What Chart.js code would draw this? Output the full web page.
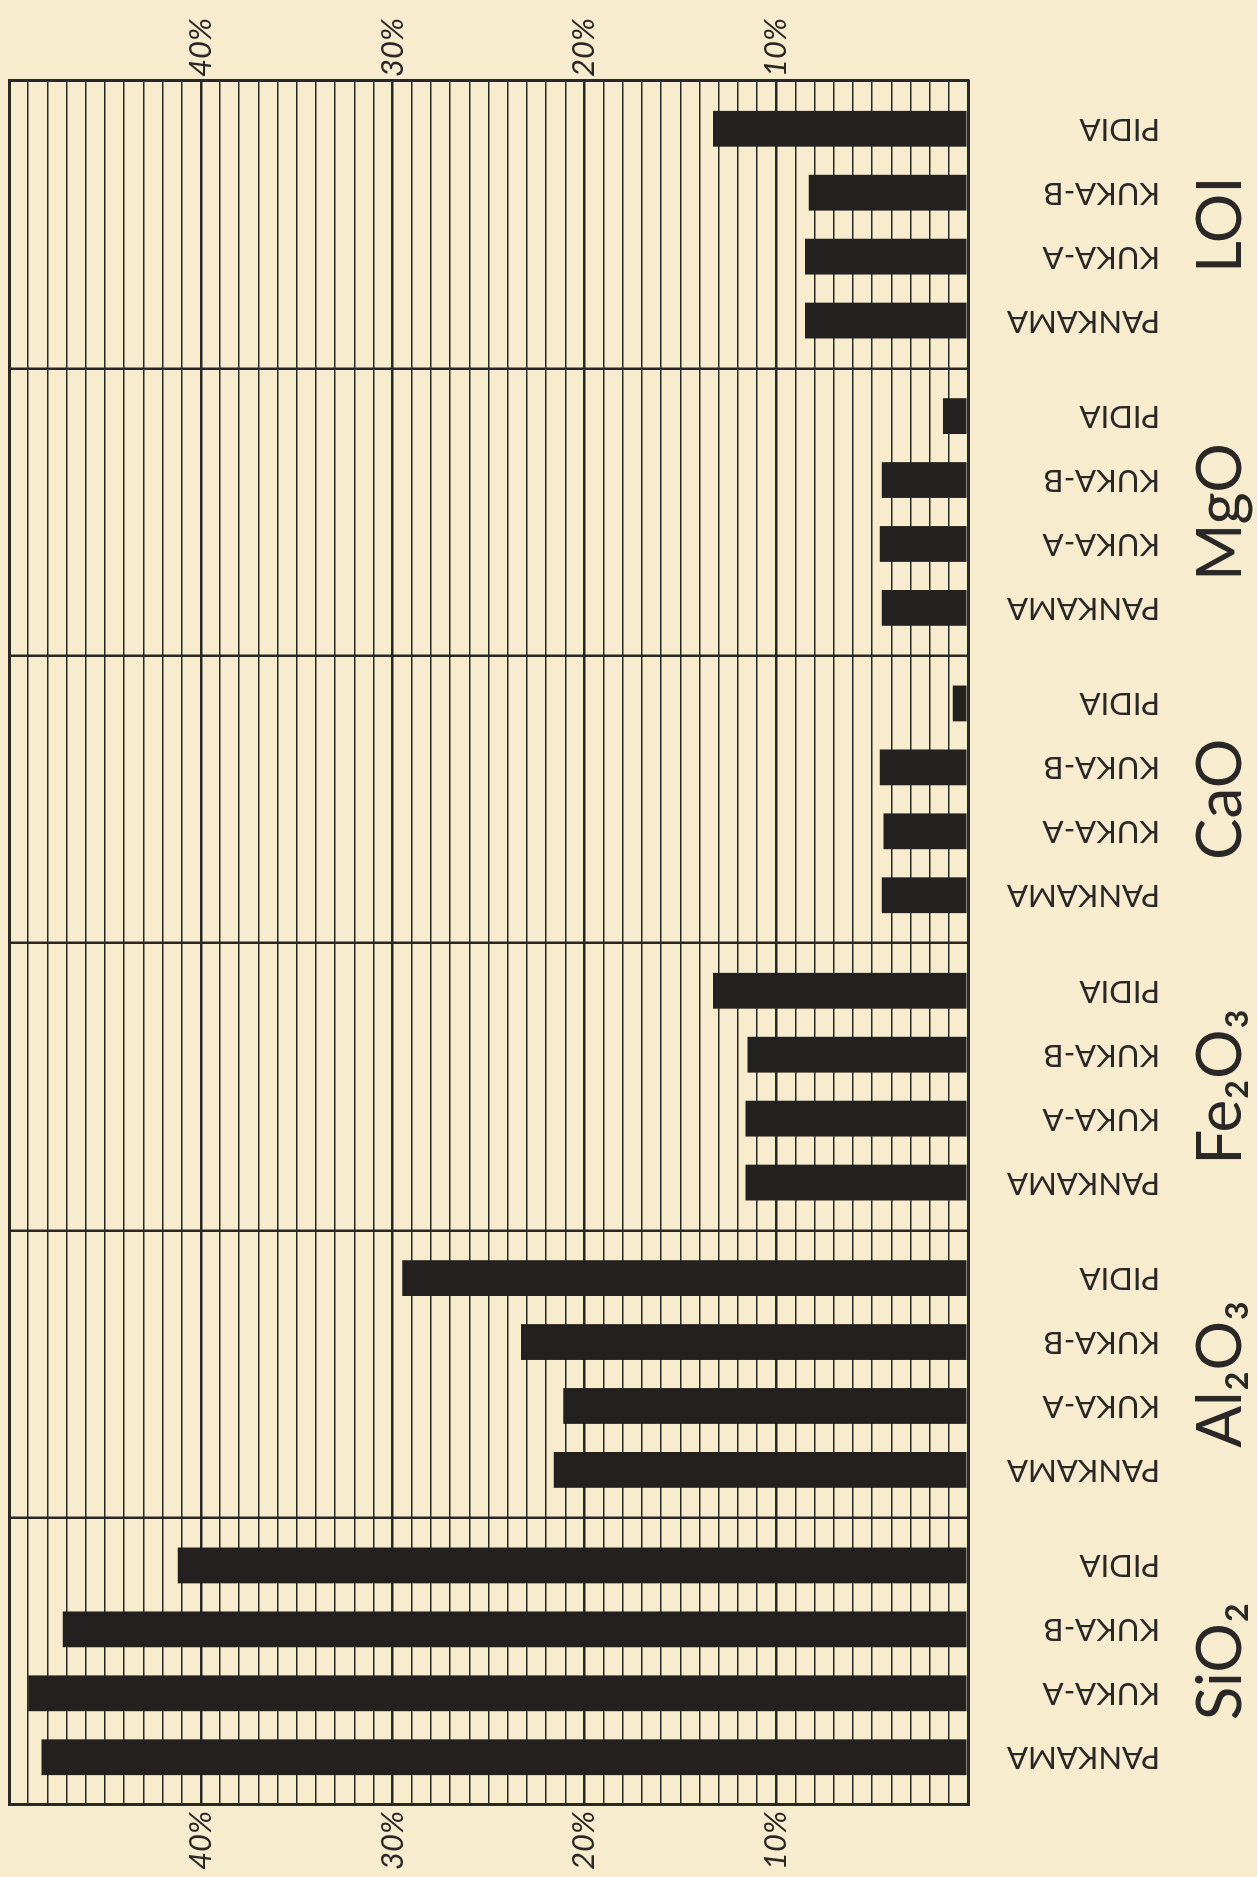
<!DOCTYPE html>
<html>
<head>
<meta charset="utf-8">
<title>Chemical composition</title>
<script src="https://cdn.jsdelivr.net/npm/chart.js@4.4.1/dist/chart.umd.min.js"></script>
<style>
  html, body {
    margin: 0;
    padding: 0;
    width: 1257px;
    height: 1877px;
    overflow: hidden;
    background: #f7ecce;
  }
  /* the sheet is drawn landscape and turned a quarter to the left */
  #sheet {
    position: absolute;
    left: 0;
    top: 0;
    width: 1877px;
    height: 1257px;
    transform-origin: 0 0;
    transform: translate(0, 1877px) rotate(-90deg);
  }
</style>
</head>
<body>
<div id="sheet">
  <canvas id="oxides" width="1877" height="1257"></canvas>
</div>
<script>
const oxides = ["SiO₂", "Al₂O₃", "Fe₂O₃", "CaO", "MgO", "LOI"];
const samples = ["PANKAMA", "KUKA-A", "KUKA-B", "PIDIA"];

// % per oxide, same order as oxides
const pankama = [48.3, 21.6, 11.6, 4.5, 4.5, 8.5];
const kukaA = [49.0, 21.1, 11.6, 4.4, 4.6, 8.5];
const kukaB = [47.2, 23.3, 11.5, 4.6, 4.5, 8.3];
const pidia = [41.2, 29.5, 13.3, 0.8, 1.3, 13.3];

const percentTicks = [10, 20, 30, 40];

const ink = "#2a2826";
const barInk = "#23211f";
const hand = "Lato, 'DejaVu Sans', sans-serif";

function percentLabel(value) {
  return percentTicks.includes(value) ? value + "%" : "";
}

// keep the plot frame where the drawing has it, labels may overhang
function noOverhang(scale) {
  scale.paddingLeft = 0;
  scale.paddingRight = 0;
  scale.paddingTop = 0;
  scale.paddingBottom = 0;
}

// sample names under every bar, read upward
const sampleLabels = {
  id: "sampleLabels",
  afterDatasetsDraw(chart) {
    const ctx = chart.ctx;
    const y0 = chart.chartArea.bottom + 192;
    ctx.save();
    ctx.font = "31px " + hand;
    ctx.fillStyle = ink;
    ctx.textAlign = "left";
    ctx.textBaseline = "middle";
    chart.data.datasets.forEach((ds, i) => {
      chart.getDatasetMeta(i).data.forEach((bar) => {
        ctx.save();
        ctx.translate(bar.x, y0);
        ctx.rotate(-Math.PI / 2);
        ctx.fillText(ds.label, 0, 0);
        ctx.restore();
      });
    });
    ctx.restore();
  },
};

const series = [pankama, kukaA, kukaB, pidia];

new Chart(document.getElementById("oxides").getContext("2d"), {
  type: "bar",
  data: {
    labels: oxides,
    datasets: samples.map((name, i) => ({
      label: name,
      data: series[i],
      backgroundColor: barInk,
      barPercentage: 0.56,
      categoryPercentage: 0.89,
    })),
  },
  options: {
    responsive: false,
    animation: false,
    devicePixelRatio: 1,
    layout: { padding: { top: 9, left: 0, right: 0, bottom: 0 } },
    plugins: {
      legend: { display: false },
      tooltip: { enabled: false },
    },
    scales: {
      x: {
        grid: { offset: true, color: ink, lineWidth: 2.5, drawTicks: false },
        border: { display: true, color: ink, width: 3 },
        ticks: {
          color: ink,
          font: { family: hand, size: 62 },
          padding: 216,
          maxRotation: 0,
          minRotation: 0,
        },
        afterFit(scale) {
          scale.height = 289;
          noOverhang(scale);
        },
      },
      y: {
        position: "left",
        min: 0,
        max: 50,
        ticks: {
          stepSize: 1,
          autoSkip: false,
          padding: 6,
          color: ink,
          font: { family: hand, size: 31, style: "italic" },
          callback: percentLabel,
        },
        grid: {
          color: ink,
          drawTicks: false,
          lineWidth: (c) => {
            const v = c.tick ? c.tick.value : 0;
            if (v === 0 || v === 50) return 3;
            return v % 10 === 0 ? 2.5 : 1.4;
          },
        },
        border: { display: true, color: ink, width: 3 },
        afterFit(scale) {
          scale.width = 72;
          noOverhang(scale);
        },
      },
      y2: {
        position: "right",
        min: 0,
        max: 50,
        ticks: {
          stepSize: 1,
          autoSkip: false,
          padding: 4,
          color: ink,
          font: { family: hand, size: 31, style: "italic" },
          callback: percentLabel,
        },
        grid: { display: false, drawTicks: false },
        border: { display: true, color: ink, width: 3 },
        afterFit(scale) {
          scale.width = 81;
          noOverhang(scale);
        },
      },
    },
  },
  plugins: [sampleLabels],
});
</script>
</body>
</html>
